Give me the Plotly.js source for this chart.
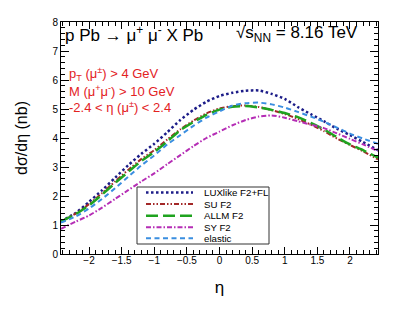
<!DOCTYPE html>
<html><head><meta charset="utf-8">
<script src="https://cdn.plot.ly/plotly-3.0.1.min.js"></script>
<style>html,body{margin:0;padding:0;background:#fff;}#plot{width:407px;height:312px;}</style>
</head><body><div id="plot"></div>
<script>
// eta grid (x values)
const eta = [-2.43,-2.2,-2.0,-1.8,-1.6,-1.4,-1.2,-1.0,-0.8,-0.6,-0.4,-0.2,0,0.2,0.4,0.6,0.8,1.0,1.2,1.4,1.6,1.8,2.0,2.2,2.43];
// dσ/dη (nb) for each model
const luxlike = [1.13,1.42,1.80,2.20,2.63,3.06,3.45,3.80,4.20,4.62,4.97,5.25,5.45,5.56,5.63,5.64,5.52,5.35,5.07,4.82,4.58,4.32,4.10,3.86,3.58];
const suF2    = [1.12,1.40,1.72,2.10,2.50,2.90,3.27,3.58,3.95,4.30,4.60,4.85,5.02,5.10,5.12,5.07,4.96,4.83,4.66,4.46,4.24,3.98,3.76,3.54,3.26];
const allmF2  = [1.12,1.38,1.68,2.05,2.45,2.83,3.20,3.52,3.88,4.27,4.55,4.80,4.98,5.08,5.10,5.05,4.97,4.86,4.72,4.52,4.30,4.03,3.78,3.58,3.32];
const syF2    = [0.87,1.12,1.33,1.60,1.90,2.20,2.50,2.78,3.10,3.41,3.72,4.00,4.22,4.44,4.62,4.74,4.78,4.70,4.58,4.46,4.34,4.16,3.97,3.78,3.55];
const elastic = [1.08,1.30,1.57,1.90,2.27,2.66,3.05,3.40,3.78,4.10,4.42,4.70,4.92,5.12,5.20,5.22,5.16,5.05,4.90,4.74,4.56,4.36,4.15,3.98,3.80];
const seriesNames = ["LUXlike F2+FL","SU F2","ALLM F2","SY F2","elastic"];
const xTickVals = [-2,-1.5,-1,-0.5,0,0.5,1,1.5,2];
const yTickVals = [0,1,2,3,4,5,6,7,8];

const FONT = "Liberation Sans, Arial, Helvetica, sans-serif";
const styles = [
  {color:"#1c1c88", width:2.5, dash:"2.5px,2.5px"},
  {color:"#a32828", width:2, dash:"5px,2px,1.5px,2px,1.5px,2px"},
  {color:"#1fa31f", width:2.5, dash:"12px,5px"},
  {color:"#b52db5", width:2, dash:"5px,2px,1.5px,2px"},
  {color:"#3a8ee0", width:2, dash:"5px,3.5px"}
];
const ys = [luxlike, suF2, allmF2, syF2, elastic];
const traces = ys.map((y,i)=>({
  x: eta, y: y, type:"scatter", mode:"lines", name: seriesNames[i],
  line:{color:styles[i].color, width:styles[i].width, dash:styles[i].dash, shape:"spline", smoothing:0.6},
  showlegend:false, hoverinfo:"skip"
}));

// custom legend (box + samples + labels), pixel -> paper conversion
const L=61, R=378, T=22, B=254;
const px = v => (v-L)/(R-L);
const py = v => (B-v)/(B-T);
const shapes = [{type:"rect", xref:"paper", yref:"paper", x0:px(137), x1:px(269), y0:py(244), y1:py(187),
  line:{color:"#333", width:1}, fillcolor:"rgba(255,255,255,0)"}];
const annotations = [];
const rowsY = [192.5,204,215.7,227.2,238.3];
seriesNames.forEach((n,i)=>{
  shapes.push({type:"line", xref:"paper", yref:"paper", x0:px(146), x1:px(193), y0:py(rowsY[i]), y1:py(rowsY[i]),
    line:{color:styles[i].color, width:styles[i].width, dash:styles[i].dash}});
  annotations.push({xref:"paper", yref:"paper", x:px(202), y:py(rowsY[i]), xanchor:"left", yanchor:"middle",
    text:n, showarrow:false, font:{family:FONT, size:9.7, color:"#000"}});
});
const red = "#e3221f";
annotations.push(
  {xref:"paper", yref:"paper", x:px(63), y:py(34), xanchor:"left", yanchor:"middle", showarrow:false,
   text:"p Pb → μ<sup>+</sup> μ<sup>-</sup> X Pb", font:{family:FONT, size:17, color:"#000"}},
  {xref:"paper", yref:"paper", x:px(234), y:py(34), xanchor:"left", yanchor:"middle", showarrow:false,
   text:"√s<sub>NN</sub> = 8.16 TeV", font:{family:FONT, size:17, color:"#000"}},
  {xref:"paper", yref:"paper", x:px(67), y:py(74), xanchor:"left", yanchor:"middle", showarrow:false,
   text:"p<sub>T</sub> (μ<sup>±</sup>) > 4 GeV", font:{family:FONT, size:13, color:red}},
  {xref:"paper", yref:"paper", x:px(67), y:py(91), xanchor:"left", yanchor:"middle", showarrow:false,
   text:"M (μ<sup>+</sup>μ<sup>-</sup>) > 10 GeV", font:{family:FONT, size:13, color:red}},
  {xref:"paper", yref:"paper", x:px(67), y:py(107), xanchor:"left", yanchor:"middle", showarrow:false,
   text:"-2.4 < η (μ<sup>±</sup>) < 2.4", font:{family:FONT, size:13, color:red}}
);

const layout = {
  width:407, height:312, margin:{l:61, r:29, t:22, b:58},
  paper_bgcolor:"#fff", plot_bgcolor:"#fff", showlegend:false,
  font:{family:FONT, color:"#000"},
  xaxis:{range:[-2.43,2.43], tickvals:xTickVals, ticks:"inside", ticklen:7, tickwidth:1, tickcolor:"#000",
    minor:{dtick:0.1, tick0:0, ticks:"inside", ticklen:4, tickcolor:"#000"},
    showline:true, linecolor:"#000", linewidth:1, mirror:"allticks", showgrid:false, zeroline:false,
    ticklabelstandoff:-3,
    tickfont:{family:FONT, size:10}, title:{text:"η", font:{family:FONT, size:17}, standoff:16}},
  yaxis:{range:[0,8], tickvals:yTickVals, ticks:"inside", ticklen:8, tickwidth:1, tickcolor:"#000",
    minor:{dtick:0.2, tick0:0, ticks:"inside", ticklen:4, tickcolor:"#000"},
    showline:true, linecolor:"#000", linewidth:1, mirror:"allticks", showgrid:false, zeroline:false,
    tickfont:{family:FONT, size:10}, title:{text:"dσ/dη (nb)", font:{family:FONT, size:16}, standoff:20}},
  shapes:shapes, annotations:annotations
};
Plotly.newPlot("plot", traces, layout, {staticPlot:true, displayModeBar:false});
</script></body></html>
